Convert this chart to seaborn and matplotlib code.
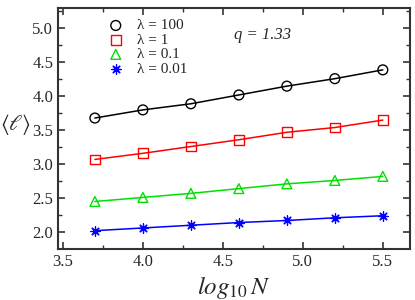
"""
Mean path length vs log10 N for several lambda values (q = 1.33)
"""
import pandas as pd
import numpy as np
import matplotlib
matplotlib.use("Agg")
import matplotlib.pyplot as plt
import seaborn as sns

# data
log_n = [3.7, 4.0, 4.3, 4.6, 4.9, 5.2, 5.5]
ell_lam100 = [3.68, 3.80, 3.89, 4.02, 4.15, 4.26, 4.39]
ell_lam1 = [3.07, 3.16, 3.26, 3.36, 3.47, 3.54, 3.65]
ell_lam01 = [2.45, 2.51, 2.57, 2.64, 2.71, 2.76, 2.82]
ell_lam001 = [2.02, 2.06, 2.10, 2.14, 2.17, 2.21, 2.24]
labels = ["λ = 100", "λ = 1", "λ = 0.1", "λ = 0.01"]

series = [ell_lam100, ell_lam1, ell_lam01, ell_lam001]
colors = ["black", "#ff0000", "#00e000", "#0000ff"]
markers = ["o", "s", "^", (8, 2, 0)]

sns.set_style("ticks")
plt.rcParams["font.family"] = ["Liberation Serif", "DejaVu Serif"]
plt.rcParams["mathtext.fontset"] = "stix"

fig = plt.figure(figsize=(4.15, 3.0), dpi=100)
ax = fig.add_axes([0.14, 0.17, 0.848, 0.803])

for vals, lab, c, m in zip(series, labels, colors, markers):
    df = pd.DataFrame({"x": log_n, "y": vals})
    sns.lineplot(data=df, x="x", y="y", color=c, lw=1.1, ax=ax, legend=False)
    if m == (8, 2, 0):
        sns.scatterplot(data=df, x="x", y="y", marker=m, color=c, s=45,
                        linewidth=0.9, ax=ax, label=lab, zorder=3)
    else:
        sns.scatterplot(data=df, x="x", y="y", marker=m, facecolor="none",
                        edgecolor=c, s=50, linewidth=1.0, ax=ax, label=lab, zorder=3)

ax.set_xlim(3.47, 5.67)
ax.set_ylim(1.75, 5.3)
ax.set_xticks([3.5, 4.0, 4.5, 5.0, 5.5])
ax.set_yticks([2.0, 2.5, 3.0, 3.5, 4.0, 4.5, 5.0])
ax.set_xticks(np.arange(3.75, 5.6, 0.5), minor=True)
ax.set_yticks(np.arange(2.25, 5.3, 0.5), minor=True)
ax.tick_params(which="both", direction="in", top=True, right=True, labelsize=12,
               color="#333333")
ax.tick_params(which="major", length=5, width=1.2)
ax.tick_params(which="minor", length=3, width=1.0)
for sp in ax.spines.values():
    sp.set_linewidth(1.5)
    sp.set_color("#333333")

ax.set_xlabel(r"$log_{10}\,N$", fontsize=18, labelpad=3)
ax.set_ylabel(r"$\langle \ell \rangle$", fontsize=16, rotation=0, ha="center", va="center")
ax.yaxis.set_label_coords(-0.12, 0.515)
ax.text(0.58, 0.89, "q = 1.33", transform=ax.transAxes, fontsize=12,
        style="italic", ha="center", va="center")

ax.legend(loc="upper left", bbox_to_anchor=(0.09, 1.0), frameon=False, fontsize=11,
          handletextpad=0.4, labelspacing=0.05, borderaxespad=0.3)

fig.savefig("out.png", dpi=100)
